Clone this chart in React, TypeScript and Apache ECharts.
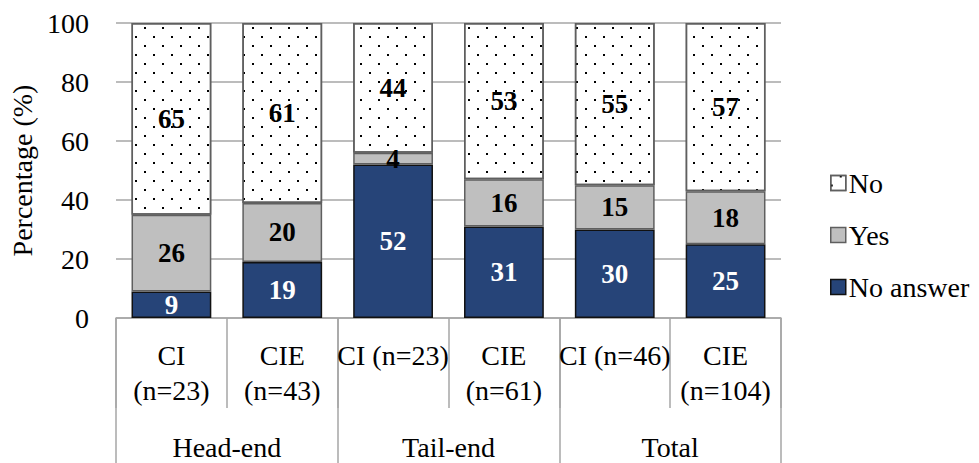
import React, { useEffect, useRef } from 'react';
import * as echarts from 'echarts';

const categories = ['CI\n(n=23)', 'CIE\n(n=43)', 'CI (n=23)', 'CIE\n(n=61)', 'CI (n=46)', 'CIE\n(n=104)'];
const groups = ['Head-end', 'Tail-end', 'Total'];
const noAnswerValues = [9, 19, 52, 31, 30, 25];
const yesValues = [26, 20, 4, 16, 15, 18];
const noValues = [65, 61, 44, 53, 55, 57];
const legendNames = ['No', 'Yes', 'No answer'];
const yMin = 0;
const yMax = 100;
const yInterval = 20;

const FONT = '"Liberation Serif", "Times New Roman", serif';
const GRID_COLOR = '#A6A6A6';
const BORDER_GRAY = '#5F5F5F';

export default function App() {
  const ref = useRef<HTMLDivElement>(null);

  useEffect(() => {
    if (!ref.current) return;
    const chart = echarts.init(ref.current, undefined, { renderer: 'svg' });
    const labelBase = {
      show: true,
      position: 'inside',
      fontFamily: FONT,
      fontWeight: 'bold',
      fontSize: 27,
    };
    const legendBorders: Record<string, string> = { No: BORDER_GRAY, Yes: BORDER_GRAY, 'No answer': '#111' };
    chart.setOption({
      animation: false,
      backgroundColor: '#fff',
      grid: { left: 116, right: 198, top: 23, bottom: 145, containLabel: false },
      legend: {
        orient: 'vertical',
        left: 825,
        top: 164,
        icon: 'rect',
        itemWidth: 15,
        itemHeight: 15,
        itemGap: 24,
        data: legendNames.map((n) => ({
          name: n,
          itemStyle: { borderColor: legendBorders[n], borderWidth: 1.5 },
        })),
        textStyle: { fontFamily: FONT, fontSize: 28, color: '#000', padding: [0, 0, 0, -2] },
      },
      xAxis: [
        {
          type: 'category',
          data: categories,
          position: 'bottom',
          axisLine: { show: true, lineStyle: { color: GRID_COLOR, width: 1.5 } },
          axisTick: { show: true, interval: 0, length: 90, alignWithLabel: false, lineStyle: { color: GRID_COLOR, width: 1.5 } },
          axisLabel: {
            interval: 0,
            margin: 20,
            fontFamily: FONT,
            fontSize: 28,
            color: '#000',
            lineHeight: 35,
            verticalAlign: 'top',
          },
          splitLine: { show: false },
        },
        {
          type: 'category',
          data: groups,
          position: 'bottom',
          axisLine: { show: false },
          axisTick: { show: true, interval: 0, length: 145, alignWithLabel: false, lineStyle: { color: GRID_COLOR, width: 1.5 } },
          axisLabel: {
            interval: 0,
            margin: 113,
            fontFamily: FONT,
            fontSize: 28,
            color: '#000',
            lineHeight: 32,
            verticalAlign: 'top',
          },
          splitLine: { show: false },
        },
      ],
      yAxis: {
        type: 'value',
        min: yMin,
        max: yMax,
        interval: yInterval,
        name: 'Percentage (%)',
        nameLocation: 'middle',
        nameGap: 77,
        nameTextStyle: { fontFamily: FONT, fontSize: 28, color: '#000' },
        axisLine: { show: false },
        axisTick: { show: false },
        axisLabel: { margin: 27, fontFamily: FONT, fontSize: 28, color: '#000' },
        splitLine: { show: true, lineStyle: { color: GRID_COLOR, width: 1.5 } },
      },
      series: [
        {
          name: 'No answer',
          type: 'bar',
          stack: 'total',
          barWidth: '72%',
          data: noAnswerValues,
          itemStyle: { color: '#264478', borderColor: '#111', borderWidth: 1.5 },
          label: { ...labelBase, color: '#fff' },
        },
        {
          name: 'Yes',
          type: 'bar',
          stack: 'total',
          barWidth: '72%',
          data: yesValues,
          itemStyle: { color: '#BFBFBF', borderColor: BORDER_GRAY, borderWidth: 1.5 },
          label: { ...labelBase, color: '#000' },
        },
        {
          name: 'No',
          type: 'bar',
          stack: 'total',
          barWidth: '72%',
          data: noValues,
          itemStyle: {
            color: '#FFFFFF',
            borderColor: BORDER_GRAY,
            borderWidth: 1.5,
            decal: {
              symbol: 'rect',
              symbolSize: 1,
              color: '#000',
              dashArrayX: [[2, 15.2], [0, 8.6, 2, 6.6]],
              dashArrayY: [2, 6.6],
              rotation: 0,
            },
          },
          label: { ...labelBase, color: '#000' },
        },
      ],
    });
    return () => chart.dispose();
  }, []);

  return (
    <div
      ref={ref}
      style={{ position: 'fixed', left: 0, top: 0, width: 979, height: 463 }}
    />
  );
}
